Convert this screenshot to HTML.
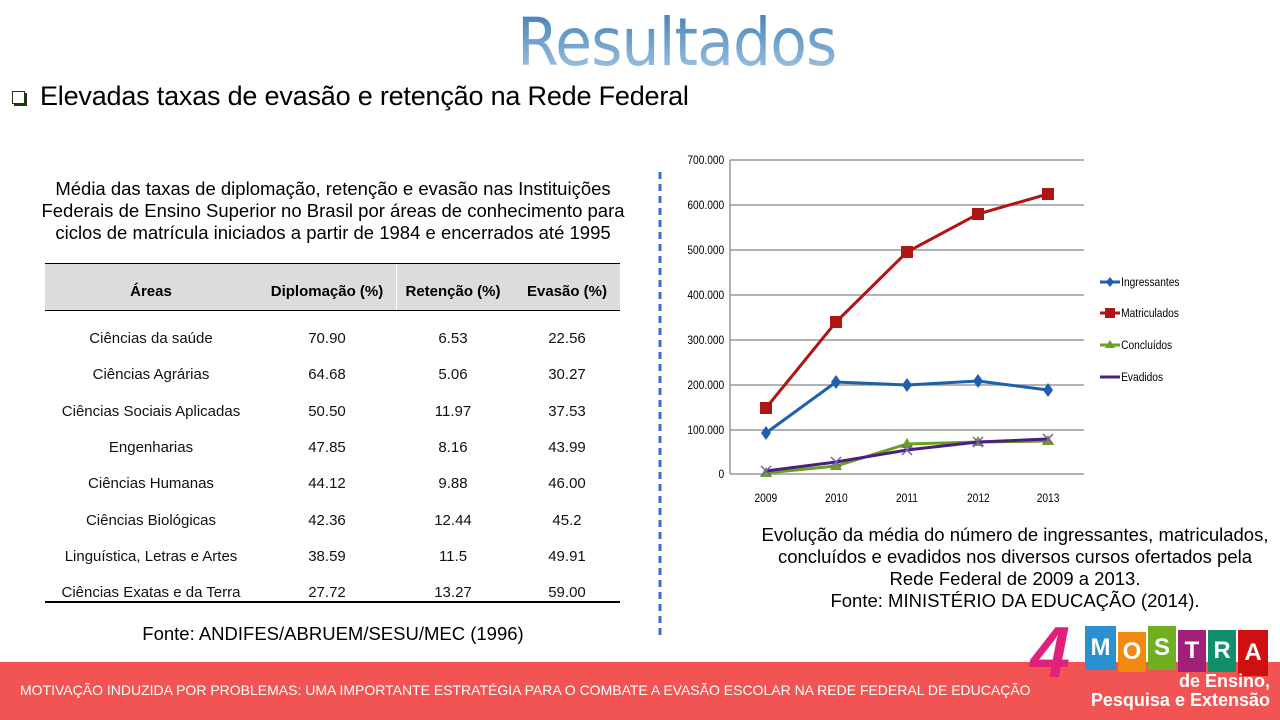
<!DOCTYPE html>
<html><head><meta charset="utf-8"><style>
body{margin:0;width:1280px;height:720px;overflow:hidden;background:#fff;font-family:"Liberation Sans",sans-serif;position:relative}
.a{position:absolute}
</style></head><body>
<div class="a" style="left:517px;top:4px;font-size:66px;font-family:'DejaVu Sans','Liberation Sans',sans-serif;white-space:nowrap;transform:scaleX(0.91);transform-origin:0 0;color:#5b95c8;background:linear-gradient(#3a78b0,#a9cdea);-webkit-background-clip:text;background-clip:text;-webkit-text-fill-color:transparent;letter-spacing:-1px">Resultados</div>
<div class="a" style="left:12px;top:91px;width:11px;height:11px;border:1.5px solid #1a3a10;box-shadow:2px 2px 0 #1a3a10"></div>
<div class="a" style="left:40px;top:81px;font-size:27px;color:#000;white-space:nowrap;letter-spacing:-0.2px">Elevadas taxas de evasão e retenção na Rede Federal</div>
<div class="a" style="left:20px;top:178px;width:626px;text-align:center;font-size:18.5px;line-height:22px;white-space:nowrap">Média das taxas de diplomação, retenção e evasão nas Instituições<br>Federais de Ensino Superior no Brasil por áreas de conhecimento para<br>ciclos de matrícula iniciados a partir de 1984 e encerrados até 1995</div>
<div class="a" style="left:45px;top:263px;width:575px;height:46px;background:#dcdcdc;border-top:1.5px solid #000;border-bottom:1.5px solid #000"></div>
<div class="a" style="left:396px;top:264px;width:1px;height:46px;background:#fff"></div>
<div class="a" style="left:45px;top:601px;width:575px;height:1.5px;background:#000"></div>
<svg class="a" style="left:0;top:0" width="680" height="645" font-family="Liberation Sans, sans-serif">
<g font-size="15" font-weight="bold" text-anchor="middle"><text x="151" y="296">Áreas</text><text x="327" y="296">Diplomação (%)</text><text x="453" y="296">Retenção (%)</text><text x="567" y="296">Evasão (%)</text></g>
<g font-size="15" text-anchor="middle" fill="#111">
<text x="151" y="343">Ciências da saúde</text><text x="327" y="343">70.90</text><text x="453" y="343">6.53</text><text x="567" y="343">22.56</text>
<text x="151" y="379">Ciências Agrárias</text><text x="327" y="379">64.68</text><text x="453" y="379">5.06</text><text x="567" y="379">30.27</text>
<text x="151" y="416">Ciências Sociais Aplicadas</text><text x="327" y="416">50.50</text><text x="453" y="416">11.97</text><text x="567" y="416">37.53</text>
<text x="151" y="452">Engenharias</text><text x="327" y="452">47.85</text><text x="453" y="452">8.16</text><text x="567" y="452">43.99</text>
<text x="151" y="488">Ciências Humanas</text><text x="327" y="488">44.12</text><text x="453" y="488">9.88</text><text x="567" y="488">46.00</text>
<text x="151" y="525">Ciências Biológicas</text><text x="327" y="525">42.36</text><text x="453" y="525">12.44</text><text x="567" y="525">45.2</text>
<text x="151" y="561">Linguística, Letras e Artes</text><text x="327" y="561">38.59</text><text x="453" y="561">11.5</text><text x="567" y="561">49.91</text>
<text x="151" y="597">Ciências Exatas e da Terra</text><text x="327" y="597">27.72</text><text x="453" y="597">13.27</text><text x="567" y="597">59.00</text>
</g>
<text x="333" y="640" font-size="18.5" text-anchor="middle">Fonte: ANDIFES/ABRUEM/SESU/MEC (1996)</text>
<line x1="660" y1="172" x2="660" y2="637" stroke="#3a6fc4" stroke-width="3" stroke-dasharray="7,5"/>
</svg>
<svg class="a" style="left:680px;top:140px" width="600" height="380" font-family="Liberation Sans Narrow, Liberation Sans, sans-serif" font-size="12">
<g stroke="#999" stroke-width="1.5">
<line x1="50" y1="20" x2="404" y2="20"/><line x1="50" y1="65" x2="404" y2="65"/><line x1="50" y1="110" x2="404" y2="110"/><line x1="50" y1="155" x2="404" y2="155"/><line x1="50" y1="200" x2="404" y2="200"/><line x1="50" y1="245" x2="404" y2="245"/><line x1="50" y1="290" x2="404" y2="290"/><line x1="50" y1="334" x2="404" y2="334"/><line x1="50" y1="20" x2="50" y2="334"/>
</g>
<g text-anchor="end" transform="scale(0.85,1)"><text x="52" y="24">700.000</text><text x="52" y="69">600.000</text><text x="52" y="114">500.000</text><text x="52" y="159">400.000</text><text x="52" y="204">300.000</text><text x="52" y="249">200.000</text><text x="52" y="294">100.000</text><text x="52" y="338">0</text></g>
<g text-anchor="middle" transform="scale(0.85,1)"><text x="101" y="362">2009</text><text x="184" y="362">2010</text><text x="267" y="362">2011</text><text x="351" y="362">2012</text><text x="433" y="362">2013</text></g>
<polyline points="86,293 156,242 227,245 298,241 368,250" fill="none" stroke="#1f5fb0" stroke-width="3"/>
<g fill="#1f5fb0"><path d="M86,286l5,7-5,7-5-7z"/><path d="M156,235l5,7-5,7-5-7z"/><path d="M227,238l5,7-5,7-5-7z"/><path d="M298,234l5,7-5,7-5-7z"/><path d="M368,243l5,7-5,7-5-7z"/></g>
<polyline points="86,268 156,182 227,112 298,74 368,54" fill="none" stroke="#b01515" stroke-width="3"/>
<g fill="#b01515"><rect x="80" y="262" width="12" height="12"/><rect x="150" y="176" width="12" height="12"/><rect x="221" y="106" width="12" height="12"/><rect x="292" y="68" width="12" height="12"/><rect x="362" y="48" width="12" height="12"/></g>
<polyline points="86,333 156,326 227,304 298,302 368,301" fill="none" stroke="#6aa21d" stroke-width="3"/>
<g fill="#6aa21d"><path d="M86,327l6,10h-12z"/><path d="M156,320l6,10h-12z"/><path d="M227,298l6,10h-12z"/><path d="M298,296l6,10h-12z"/><path d="M368,295l6,10h-12z"/></g>
<polyline points="86,331 156,322 227,310 298,302 368,299" fill="none" stroke="#4a1f80" stroke-width="3"/>
<g stroke="#7a5ab0" stroke-width="1.5"><path d="M81,326l10,10M91,326l-10,10"/><path d="M151,317l10,10M161,317l-10,10"/><path d="M222,305l10,10M232,305l-10,10"/><path d="M293,297l10,10M303,297l-10,10"/><path d="M363,294l10,10M373,294l-10,10"/></g>
<g stroke-width="3"><line x1="420" y1="142" x2="440" y2="142" stroke="#1f5fb0"/><line x1="420" y1="173" x2="440" y2="173" stroke="#b01515"/><line x1="420" y1="205" x2="440" y2="205" stroke="#6aa21d"/><line x1="420" y1="237" x2="440" y2="237" stroke="#4a1f80"/></g>
<path d="M430,137l4,5-4,5-4-5z" fill="#1f5fb0"/><rect x="425" y="168" width="10" height="10" fill="#b01515"/><path d="M430,200l5,8h-10z" fill="#6aa21d"/>
<g transform="scale(0.85,1)"><text x="519" y="146">Ingressantes</text><text x="519" y="177">Matriculados</text><text x="519" y="209">Concluídos</text><text x="519" y="241">Evadidos</text></g>
</svg>
<div class="a" style="left:735px;top:524px;width:560px;text-align:center;font-size:18.5px;line-height:22px;white-space:nowrap">Evolução da média do número de ingressantes, matriculados,<br>concluídos e evadidos nos diversos cursos ofertados pela<br>Rede Federal de 2009 a 2013.<br>Fonte: MINISTÉRIO DA EDUCAÇÃO (2014).</div>
<div class="a" style="left:0;top:662px;width:1280px;height:58px;background:#f25454"></div>
<div class="a" style="left:20px;top:682px;font-size:14px;color:#fff;white-space:nowrap">MOTIVAÇÃO INDUZIDA POR PROBLEMAS: UMA IMPORTANTE ESTRATÉGIA PARA O COMBATE A EVASÃO ESCOLAR NA REDE FEDERAL DE EDUCAÇÃO</div>
<div class="a" style="left:1030px;top:612px;font-size:72px;font-weight:bold;color:#e0207a;font-style:italic">4</div>
<div class="a" style="left:1085px;top:626px;width:31px;height:44px;background:#2a90d0;color:#fff;font-weight:bold;font-size:24px;text-align:center;line-height:44px">M</div>
<div class="a" style="left:1118px;top:632px;width:28px;height:40px;background:#f08a10;color:#fff;font-weight:bold;font-size:24px;text-align:center;line-height:40px">O</div>
<div class="a" style="left:1148px;top:626px;width:28px;height:44px;background:#70b020;color:#fff;font-weight:bold;font-size:24px;text-align:center;line-height:44px">S</div>
<div class="a" style="left:1178px;top:630px;width:28px;height:42px;background:#a0207a;color:#fff;font-weight:bold;font-size:24px;text-align:center;line-height:42px">T</div>
<div class="a" style="left:1208px;top:630px;width:28px;height:42px;background:#10906a;color:#fff;font-weight:bold;font-size:24px;text-align:center;line-height:42px">R</div>
<div class="a" style="left:1238px;top:630px;width:30px;height:46px;background:#d01010;color:#fff;font-weight:bold;font-size:24px;text-align:center;line-height:46px">A</div>
<div class="a" style="left:1070px;top:672px;width:200px;text-align:right;color:#fff;font-weight:bold;font-size:18px;line-height:19px">de Ensino,<br>Pesquisa e Extensão</div>
</body></html>
